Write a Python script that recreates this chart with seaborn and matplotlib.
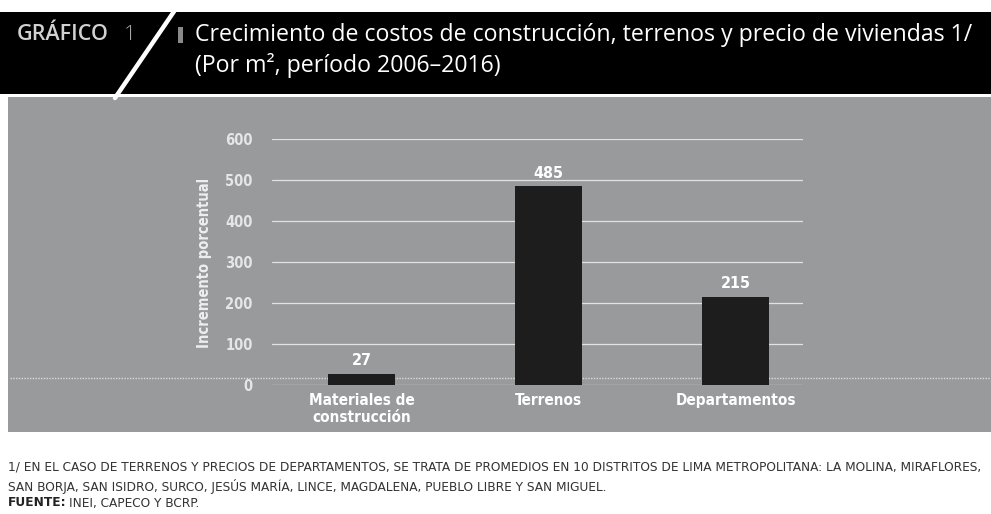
import numpy as np
import pandas as pd
import matplotlib
matplotlib.use("Agg")
import matplotlib.pyplot as plt
import seaborn as sns
from matplotlib.patches import Rectangle
from matplotlib.lines import Line2D

# data
categories = ["Materiales de\nconstrucción", "Terrenos", "Departamentos"]
values = [27, 485, 215]
yticks = [0, 100, 200, 300, 400, 500, 600]

title_l1 = "Crecimiento de costos de construcción, terrenos y precio de viviendas 1/"
title_l2 = "(Por m², período 2006–2016)"
note_l1 = ("1/ EN EL CASO DE TERRENOS Y PRECIOS DE DEPARTAMENTOS, SE TRATA DE PROMEDIOS EN 10 DISTRITOS "
           "DE LIMA METROPOLITANA: LA MOLINA, MIRAFLORES,")
note_l2 = "SAN BORJA, SAN ISIDRO, SURCO, JESÚS MARÍA, LINCE, MAGDALENA, PUEBLO LIBRE Y SAN MIGUEL."

sns.set_theme(style="white")
plt.rcParams["font.family"] = ["DejaVu Sans"]
narrow = dict(family="DejaVu Sans", stretch="condensed")

W, H = 991, 514
fig = plt.figure(figsize=(W / 100, H / 100), dpi=100)
fig.patch.set_facecolor("white")

def fx(px):
    return px / W

def fy(py):
    return 1 - py / H

# header band and grey panel
fig.add_artist(Rectangle((0, fy(94)), 1, fy(12) - fy(94), transform=fig.transFigure,
                         facecolor="black", edgecolor="none", zorder=-3))
fig.add_artist(Rectangle((fx(8), fy(432)), 1, fy(97) - fy(432), transform=fig.transFigure,
                         facecolor="#999a9c", edgecolor="none", zorder=-3))
fig.add_artist(Line2D([fx(175), fx(115)], [fy(10), fy(98)], transform=fig.transFigure,
                      color="white", lw=3.2, zorder=2))
fig.text(fx(17), fy(35), "GRÁFICO", color="#d2d2d2", fontsize=15.5, fontweight="semibold",
         va="center", ha="left", family="Open Sans")
fig.text(fx(124), fy(35), "1", color="#a8a8a8", fontsize=15, fontweight="light",
         va="center", ha="left", family="Open Sans")
fig.add_artist(Rectangle((fx(178), fy(43)), fx(5), fy(27) - fy(43), transform=fig.transFigure,
                         facecolor="#8a8a8a", edgecolor="none", zorder=2))
fig.text(fx(195), fy(35), title_l1, color="white", fontsize=16.7, va="center", ha="left",
         family="Open Sans")
fig.text(fx(195), fy(66), title_l2, color="white", fontsize=16.7, va="center", ha="left",
         family="Open Sans")

# dotted baseline across panel
fig.add_artist(Line2D([fx(10), fx(991)], [fy(378), fy(378)], transform=fig.transFigure,
                      color="#dcdcdc", lw=1.0, ls=(0, (1, 1)), zorder=-2))

ax = fig.add_axes([fx(272), fy(385), fx(803) - fx(272), fy(139) - fy(385)])
ax.patch.set_alpha(0)
df = pd.DataFrame({"cat": categories, "val": values})
sns.barplot(data=df, x="cat", y="val", color="#1d1d1d", width=0.36, saturation=1,
            linewidth=0, ax=ax, zorder=3)
ax.set_xlim(-0.48, 2.36)
ax.set_ylim(0, 600)
ax.set_yticks(yticks)
for t in yticks:
    ax.axhline(t, color="#e2e2e2", lw=0.9, zorder=1)
for s in ax.spines.values():
    s.set_visible(False)
ax.tick_params(axis="y", length=0, pad=14, labelsize=10.5, labelcolor="#e6e6e6")
ax.tick_params(axis="x", length=0, pad=6, labelsize=11, labelcolor="white")
for lab in ax.get_yticklabels():
    lab.set(**narrow)
    lab.set_fontweight("semibold")
for lab in ax.get_xticklabels():
    lab.set(**narrow)
    lab.set_fontweight("bold")
    lab.set_linespacing(1.1)
ax.set_xlabel("")
ax.set_ylabel("")
ax.bar_label(ax.containers[0], padding=4, color="white", fontsize=11.5, fontweight="bold",
             **narrow)
fig.text(fx(205), fy(263), "Incremento porcentual", rotation=90, color="#eeeeee",
         fontsize=10.5, fontweight="bold", va="center", ha="center", **narrow)

# footnote
fs = 9.7
fig.text(fx(8), fy(467), note_l1, color="#333333", fontsize=fs, va="center", ha="left", **narrow)
fig.text(fx(8), fy(486), note_l2, color="#333333", fontsize=fs, va="center", ha="left", **narrow)
src = fig.text(fx(8), fy(503), "FUENTE:", color="#222222", fontsize=fs, fontweight="bold",
               va="center", ha="left", **narrow)
bb = src.get_window_extent(renderer=fig.canvas.get_renderer())
fig.text(bb.x1 / W + fx(2), fy(503), "INEI, CAPECO Y BCRP.", color="#333333", fontsize=fs,
         va="center", ha="left", **narrow)

fig.savefig("out.png", dpi=100)
